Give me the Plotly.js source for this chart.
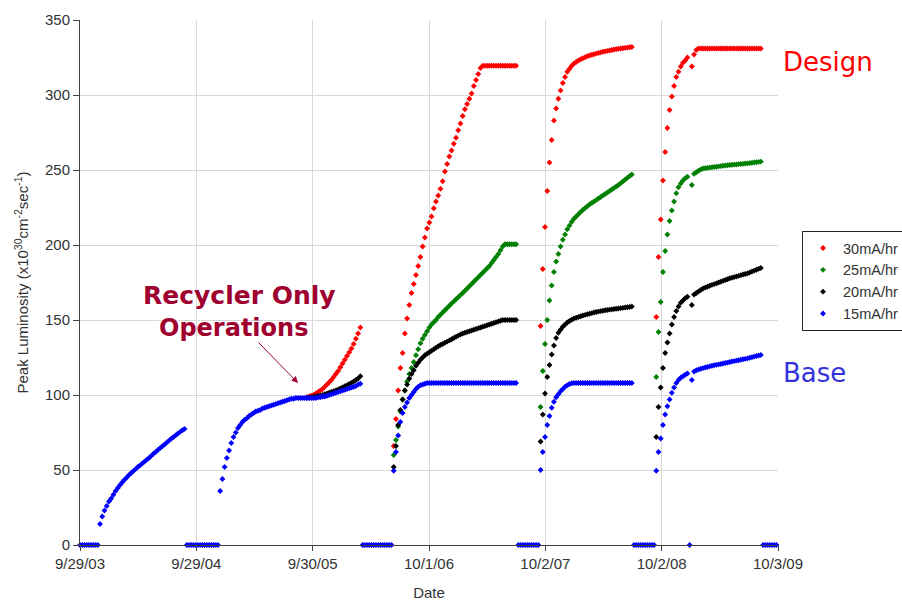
<!DOCTYPE html>
<html>
<head>
<meta charset="utf-8">
<script src="https://cdn.plot.ly/plotly-3.0.1.min.js"></script>
<style>
  html, body { margin: 0; padding: 0; background: #ffffff; }
  #chart { width: 902px; height: 602px; }
</style>
</head>
<body>
<div id="chart"></div>
<script>
// ---- DATA (weekly readings; week 0 = weekZero) ----
const weekZero = '2003-09-29';
const tickDates = ['2003-09-29', '2004-09-29', '2005-09-30', '2006-10-01', '2007-10-02', '2008-10-02', '2009-10-03'];
const tickLabels = ['9/29/03', '9/29/04', '9/30/05', '10/1/06', '10/2/07', '10/2/08', '10/3/09'];
const seriesNames = ['30mA/hr', '25mA/hr', '20mA/hr', '15mA/hr'];

// week number at which each block of readings begins
const rate30Start = [102, 141, 207, 259];
const rate25Start = [141, 207, 259];
const rate20Start = [102, 141, 207, 259];
const rate15Start = [0, 9, 48, 63, 127, 141, 197, 207, 249, 259, 307];

// 30 mA/hr
const rate30_fy06 = [98.5, 99, 99.5, 100, 101, 102, 103, 104, 105.5, 107, 108.5, 110, 112, 114, 116, 118.5, 121, 123.5, 126, 128.5, 131, 134, 137.5, 141, 145];
const rate30_fy07 = [66, 84, 103, 118, 128, 141, 151, 160, 168, 174, 180, 186, 192, 199, 205, 211, 215, 219, 224.5, 229, 233, 237.5, 242.5, 249, 254, 259, 263, 267.5, 271.5, 276.5, 281, 286, 290.5, 294, 297.5, 301, 306, 310, 314, 318, 319.5, 319.5, 319.5, 319.5, 319.5, 319.5, 319.5, 319.5, 319.5, 319.5, 319.5, 319.5, 319.5, 319.5, 319.5, 319.5];
const rate30_fy08 = [146, 184, 212, 236, 255, 270, 283, 291, 297.5, 303, 308, 312, 315.5, 317.5, 319.5, 321, 322, 323, 323.8, 324.5, 325.2, 325.8, 326.3, 326.8, 327.2, 327.6, 328, 328.4, 328.8, 329.1, 329.4, 329.7, 330, 330.3, 330.5, 330.8, 331, 331.2, 331.4, 331.6, 331.8, 332];
const rate30_fy09 = [152, 192, 217, 243, 262, 278, 290, 299, 306, 312, 315.5, 319, 321.5, 323, 325, null, 319, 327, 330, 331, 331, 331, 331, 331, 331, 331, 331, 331, 331, 331, 331, 331, 331, 331, 331, 331, 331, 331, 331, 331, 331, 331, 331, 331, 331, 331, 331, 331];

// 25 mA/hr
const rate25_fy07 = [60, 70, 79, 89, 97, 103, 109, 114, 118, 122, 126.5, 130.5, 134.5, 137.5, 140, 142.5, 145, 147, 148.5, 150, 152, 153.5, 155, 156.5, 158, 159.5, 161, 162.4, 163.8, 165.2, 166.6, 168, 169.5, 171, 172.5, 174, 175.5, 177, 178.5, 180, 181.5, 183, 184.5, 186, 188, 190, 192, 194, 196.5, 199, 200.5, 200.5, 200.5, 200.5, 200.5, 200.5];
const rate25_fy08 = [92, 116, 134, 150, 163, 173, 182, 189, 194, 199, 203.5, 207, 210.5, 213, 215.5, 217.5, 219, 220.5, 222, 223.3, 224.6, 225.8, 227, 228, 229, 230, 231, 232, 233, 234, 235, 236, 237, 238, 239, 240, 241.2, 242.4, 243.6, 244.8, 245.9, 247];
const rate25_fy09 = [112, 142, 162, 182, 196, 207, 216, 223, 229, 234.5, 238.5, 241, 243, 244.5, 245.5, null, 240, 247.5, 248.5, 249.5, 250.3, 251, 251.2, 251.4, 251.6, 251.8, 252, 252.2, 252.4, 252.6, 252.8, 253, 253.2, 253.3, 253.5, 253.6, 253.7, 253.9, 254, 254.1, 254.3, 254.4, 254.6, 254.8, 255, 255.2, 255.4, 255.6];

// 20 mA/hr
const rate20_fy06 = [98.2, 98.4, 98.6, 98.8, 99, 99.3, 99.6, 100, 100.5, 101, 101.5, 102, 102.5, 103, 103.7, 104.4, 105.1, 105.8, 106.5, 107.3, 108.1, 109, 110, 111, 112.5];
const rate20_fy07 = [52, 66, 80, 90, 97, 103, 107, 111, 114, 116.5, 119.5, 121.5, 123.5, 125, 126.5, 127.5, 128.5, 129.5, 130.5, 131.5, 132.5, 133.3, 134, 134.8, 135.6, 136.4, 137.2, 138, 138.8, 139.6, 140.4, 141, 141.5, 142, 142.5, 143, 143.5, 144, 144.5, 145, 145.5, 146, 146.5, 147, 147.5, 148, 148.5, 149, 149.5, 150, 150, 150, 150, 150, 150, 150];
const rate20_fy08 = [69, 87, 101, 112, 120, 127, 133, 138, 141.5, 143.5, 145.5, 147, 148.3, 149.3, 150.2, 151, 151.5, 152, 152.5, 153, 153.4, 153.8, 154.2, 154.6, 155, 155.3, 155.6, 155.9, 156.2, 156.5, 156.7, 156.9, 157.1, 157.3, 157.5, 157.7, 157.9, 158.1, 158.3, 158.5, 158.7, 159];
const rate20_fy09 = [72, 92, 105, 118, 128, 135, 141, 147, 152, 156, 159, 161.5, 163, 164.5, 165.5, null, 160, 167, 168, 169, 170, 171, 171.6, 172.2, 172.8, 173.4, 173.9, 174.4, 175, 175.5, 176.1, 176.7, 177.2, 177.8, 178.2, 178.6, 179, 179.4, 179.9, 180.3, 180.7, 181.1, 181.7, 182.3, 182.9, 183.5, 184.1, 184.7];

// 15 mA/hr
const rate15_off1 = [0, 0, 0, 0, 0, 0, 0, 0, 0];
const rate15_fy04 = [14, 19, 23, 26, 29, 31, 33.5, 36, 38, 40, 41.8, 43.5, 45, 46.6, 48, 49.3, 50.6, 52, 53.1, 54.4, 55.6, 56.8, 58, 59.4, 60.8, 62, 63.3, 64.6, 65.8, 67, 68.3, 69.6, 70.8, 72, 73.1, 74.3, 75.4, 76.5, 77.4];
const rate15_off2 = [0, 0, 0, 0, 0, 0, 0, 0, 0, 0, 0, 0, 0, 0, 0];
const rate15_fy05 = [36, 44, 52, 58, 63, 68, 72, 75, 78, 80, 82, 83.5, 84.5, 86, 87, 88, 89, 89.5, 90, 91, 91.5, 92, 92.5, 93, 93.5, 94, 94.5, 95, 95.5, 96, 96.5, 97, 97.5, 97.5, 98, 98, 98, 98, 98, 98, 98, 98, 98, 98, 98.5, 98.5, 99, 99, 99.5, 100, 100.5, 101, 101.5, 102, 102.5, 103, 103.5, 104, 104.5, 105, 105.5, 106, 107, 107.5];
const rate15_off3 = [0, 0, 0, 0, 0, 0, 0, 0, 0, 0, 0, 0, 0, 0];
const rate15_fy07 = [49.5, 62, 73, 82, 88, 92, 95, 98, 100, 102, 104, 105.5, 106.5, 107, 107.5, 108, 108, 108, 108, 108, 108, 108, 108, 108, 108, 108, 108, 108, 108, 108, 108, 108, 108, 108, 108, 108, 108, 108, 108, 108, 108, 108, 108, 108, 108, 108, 108, 108, 108, 108, 108, 108, 108, 108, 108, 108];
const rate15_off4 = [0, 0, 0, 0, 0, 0, 0, 0, 0, 0];
const rate15_fy08 = [50, 62, 72, 80, 86, 91.5, 95.5, 98.5, 100.5, 102.5, 104, 105.5, 106.5, 107.3, 107.8, 108, 108, 108, 108, 108, 108, 108, 108, 108, 108, 108, 108, 108, 108, 108, 108, 108, 108, 108, 108, 108, 108, 108, 108, 108, 108, 108];
const rate15_off5 = [0, 0, 0, 0, 0, 0, 0, 0, 0, 0];
const rate15_fy09 = [49.5, 62, 71, 80, 87, 92.5, 97, 101.5, 105, 108, 110, 111.5, 112.5, 113.5, 114.3, 0, 110, 115.6, 116.5, 117, 117.5, 117.9, 118.3, 118.7, 119.1, 119.5, 119.8, 120.1, 120.4, 120.7, 121, 121.3, 121.6, 122, 122.3, 122.6, 122.9, 123.2, 123.5, 123.8, 124.1, 124.4, 124.8, 125.2, 125.6, 126, 126.3, 126.7];
const rate15_off6 = [0, 0, 0, 0, 0, 0, 0];

const seriesColors = ['#ff0000', '#008000', '#000000', '#0000ff'];

// ---- BUILD ----
const DAY = 86400000;
const t0 = Date.parse(weekZero + 'T00:00:00Z');
function weekDate(n) {
  return new Date(t0 + n * 7 * DAY).toISOString().slice(0, 10);
}
function build(starts, blocks) {
  const x = [], y = [];
  blocks.forEach((blk, b) => {
    blk.forEach((v, i) => {
      x.push(weekDate(starts[b] + i));
      y.push(v);
    });
  });
  return { x, y };
}

const sets = [
  build(rate30Start, [rate30_fy06, rate30_fy07, rate30_fy08, rate30_fy09]),
  build(rate25Start, [rate25_fy07, rate25_fy08, rate25_fy09]),
  build(rate20Start, [rate20_fy06, rate20_fy07, rate20_fy08, rate20_fy09]),
  build(rate15Start, [rate15_off1, rate15_fy04, rate15_off2, rate15_fy05, rate15_off3, rate15_fy07, rate15_off4, rate15_fy08, rate15_off5, rate15_fy09, rate15_off6])
];

const traces = sets.map((s, i) => ({
  type: 'scatter',
  mode: 'markers',
  name: seriesNames[i],
  x: s.x,
  y: s.y,
  cliponaxis: false,
  marker: { symbol: 'diamond', size: 4.5, color: seriesColors[i], line: { width: 0 } }
}));

const tickFont = { family: 'Liberation Sans, Arial, sans-serif', size: 15, color: '#333333' };
const legendFont = { family: 'Liberation Sans, Arial, sans-serif', size: 14.5, color: '#333333' };
const noteFont = 'Comic Sans MS, DejaVu Sans, sans-serif';

const layout = {
  width: 902,
  height: 602,
  margin: { l: 80, r: 124, t: 20, b: 57, autoexpand: false },
  paper_bgcolor: '#ffffff',
  plot_bgcolor: '#ffffff',
  showlegend: true,
  legend: {
    x: 1.0344, xanchor: 'left',
    y: 0.598, yanchor: 'top',
    bgcolor: '#ffffff',
    bordercolor: '#222222',
    borderwidth: 1,
    font: legendFont
  },
  xaxis: {
    type: 'date',
    range: [tickDates[0], tickDates[tickDates.length - 1]],
    tickmode: 'array',
    tickvals: tickDates,
    ticktext: tickLabels,
    showgrid: true,
    gridcolor: '#d9d9d9',
    gridwidth: 1,
    showline: true,
    linecolor: '#404040',
    linewidth: 1,
    ticks: 'outside',
    ticklen: 5,
    tickcolor: '#404040',
    tickfont: tickFont,
    zeroline: false,
    automargin: false,
    title: { text: 'Date', font: tickFont, standoff: 16 }
  },
  yaxis: {
    range: [0, 350],
    tickmode: 'linear',
    tick0: 0,
    dtick: 50,
    showgrid: true,
    gridcolor: '#d9d9d9',
    gridwidth: 1,
    showline: true,
    linecolor: '#404040',
    linewidth: 1,
    ticks: 'outside',
    ticklen: 6,
    tickcolor: '#404040',
    tickfont: tickFont,
    zeroline: false,
    automargin: false,
    title: { text: 'Peak Luminosity (x10<sup>30</sup>cm<sup>-2</sup>sec<sup>-1</sup>)', font: tickFont, standoff: 12 }
  },
  annotations: [
    { xref: 'paper', yref: 'paper', x: 1.0716, y: 0.92, xanchor: 'center', yanchor: 'middle', showarrow: false,
      text: 'Design', font: { family: noteFont, size: 26, color: '#ff0000' } },
    { xref: 'paper', yref: 'paper', x: 1.053, y: 0.3276, xanchor: 'center', yanchor: 'middle', showarrow: false,
      text: 'Base', font: { family: noteFont, size: 26, color: '#3333dd' } },
    { xref: 'paper', yref: 'paper', x: 0.2278, y: 0.476, xanchor: 'center', yanchor: 'middle', showarrow: false,
      text: '<b>Recycler Only</b>', font: { family: noteFont, size: 25, color: '#a00030' } },
    { xref: 'paper', yref: 'paper', x: 0.2206, y: 0.413, xanchor: 'center', yanchor: 'middle', showarrow: false,
      text: '<b>Operations</b>', font: { family: noteFont, size: 24, color: '#a00030' } },
    { xref: 'x', yref: 'y', x: '2005-08-15', y: 108, text: '', showarrow: true,
      ax: -41, ay: -42, arrowcolor: '#a00030', arrowwidth: 1, arrowhead: 2, arrowsize: 1.3 }
  ]
};

Plotly.newPlot('chart', traces, layout, { displayModeBar: false, staticPlot: true });
</script>
</body>
</html>
